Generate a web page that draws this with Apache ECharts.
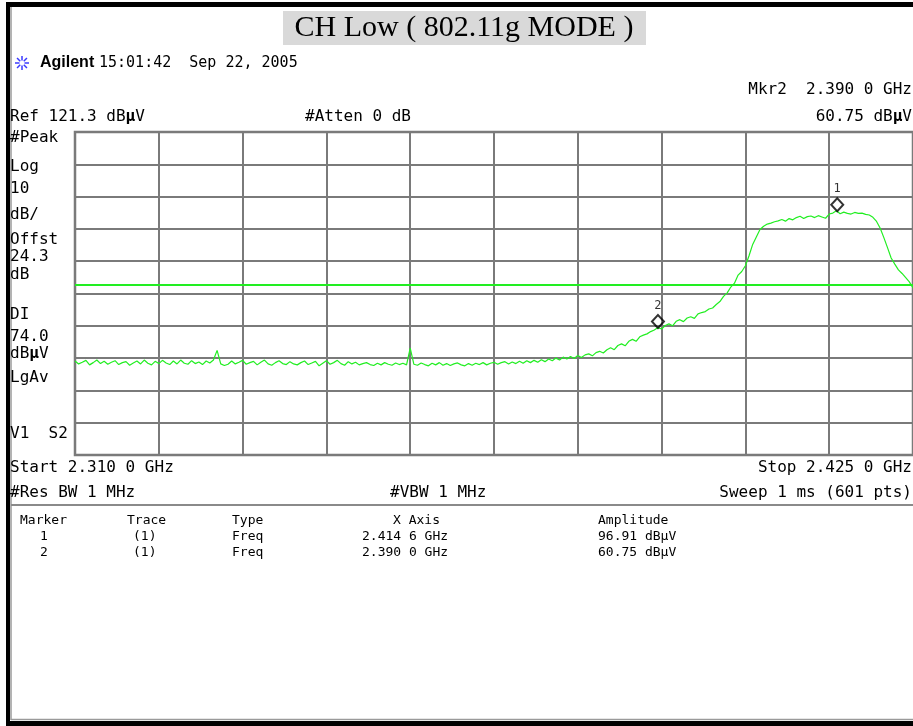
<!DOCTYPE html>
<html>
<head>
<meta charset="utf-8">
<script src="https://cdn.jsdelivr.net/npm/echarts@6/dist/echarts.min.js"></script>
<style>
  html, body { margin: 0; padding: 0; background: #fff; }
  #chart { width: 913px; height: 726px; }
</style>
</head>
<body>
<div id="chart"></div>
<script>
// Sweep settings (GHz) and reference level (dBuV)
const startGHz = 2.310;
const stopGHz = 2.425;
const stepGHz = 0.0005;
const refLevel = 121.3;
const dbPerDiv = 10;
const displayLine = 74.0;

// Measured trace levels in dBuV, one per 0.5 MHz from the start frequency
const traceLevels = [
  50.4, 49.5, 50.0, 50.6, 49.2, 49.9, 50.7, 49.6, 50.3, 49.4, 50.0, 50.5, 49.3, 49.9, 50.2, 49.1, 49.8, 50.4, 49.5, 50.7, 49.7,
  49.2, 50.3, 49.6, 50.6, 49.8, 49.3, 50.4, 49.5, 50.7, 49.7, 49.4, 50.5, 49.6, 50.1, 49.3, 50.4, 49.8, 50.7, 53.7, 49.5,
  49.0, 49.4, 50.4, 49.5, 50.0, 50.6, 49.4, 49.9, 50.3, 49.2, 50.0, 50.7, 49.5, 49.1, 49.9, 50.5, 49.6, 49.3, 50.2, 49.5,
  49.2, 49.9, 50.4, 49.3, 49.8, 50.3, 48.9, 49.7, 50.5, 49.4, 49.9, 50.6, 49.6, 49.1, 50.2, 49.5, 50.0, 49.2, 49.6, 49.9,
  49.3, 49.0, 49.7, 49.2, 49.9, 49.4, 49.1, 49.8, 49.3, 49.7, 49.2, 54.4, 49.4, 49.1, 49.8, 49.3, 48.9, 49.7, 49.2, 49.9,
  49.1, 49.6, 49.0, 49.5, 49.8, 49.2, 48.9, 49.6, 49.1, 49.7, 49.3, 49.9, 49.2, 49.7, 50.0, 49.4, 49.9, 50.2, 49.5, 50.1,
  49.6, 50.3, 49.7, 50.5, 49.9, 50.6, 50.0, 50.8, 50.2, 51.0, 50.5, 51.3, 50.7, 51.6, 51.0, 51.8, 51.2, 52.1, 51.5, 52.3,
  52.6, 52.0, 53.0, 53.4, 52.9, 53.9, 54.5, 53.9, 55.2, 55.7, 55.1, 56.5, 57.1, 56.5, 57.9, 58.4, 58.8, 59.5, 60.0, 60.75,
  60.3, 61.4, 61.9, 61.3, 62.7, 63.2, 62.6, 63.7, 64.1, 63.6, 65.0, 65.4, 65.7, 66.5, 66.8, 67.9, 68.8, 70.4, 71.5, 73.3,
  74.5, 77.0, 78.1, 79.9, 83.0, 86.5, 88.8, 91.1, 92.1, 92.8, 93.1, 93.5, 93.8, 94.2, 93.7, 94.5, 94.1, 94.8, 95.2, 94.5,
  95.1, 95.3, 94.8, 95.4, 95.0, 94.6, 95.9, 96.2, 96.9, 96.0, 96.5, 96.1, 95.9, 96.4, 96.1, 96.2, 95.8, 95.6, 94.9, 93.6,
  91.5, 88.6, 85.5, 82.3, 80.4, 78.6, 77.5, 76.2, 74.9, 73.0
];

// Marker readouts
const markerIds = ['1', '2'];
const markerFreqGHz = [2.4146, 2.3900];
const markerLevels = [96.91, 60.75];

const tracePoints = traceLevels.map((v, i) => [startGHz + i * stepGHz, v]);
const markerPoints = markerIds.map((id, i) => ({ name: id, value: [markerFreqGHz[i], markerLevels[i]] }));

const MONO = '"DejaVu Sans Mono", "Liberation Mono", monospace';
const GRID_GRAY = '#7a7a7a';
const TRACE_GREEN = '#22ee22';

function label(x, y, text, size, align, extra) {
  return {
    type: 'text', x: x, y: y, silent: true,
    style: Object.assign({
      text: text,
      fontFamily: MONO, fontSize: size, fill: '#000',
      align: align || 'left', verticalAlign: 'middle',
      textAlign: align || 'left', textVerticalAlign: 'middle'
    }, extra || {})
  };
}

// "dBuV" with the bold micro sign used by the analyzer
function unitText(x, y, prefix, align) {
  return label(x, y, '{n|' + prefix + 'dB}{b|μ}{n|V}', 16, align, {
    rich: {
      n: { fontFamily: MONO, fontSize: 16, fill: '#000' },
      b: { fontFamily: MONO, fontSize: 16, fontWeight: 'bold', fill: '#000' }
    }
  });
}

function line(x1, y1, x2, y2, color, w) {
  return { type: 'line', silent: true, shape: { x1, y1, x2, y2 }, style: { stroke: color, lineWidth: w } };
}

// Agilent logo burst
const burst = [];
for (let k = 0; k < 8; k++) {
  const a = k * Math.PI / 4;
  burst.push(line(22 + Math.cos(a) * 2.5, 63 + Math.sin(a) * 2.5, 22 + Math.cos(a) * 7, 63 + Math.sin(a) * 7, '#3a3aff', 1.5));
}

const graphics = [
  // outer frame
  { type: 'rect', silent: true, shape: { x: 6, y: 2, width: 907, height: 5 }, style: { fill: '#000' } },
  { type: 'rect', silent: true, shape: { x: 6, y: 2, width: 4, height: 724 }, style: { fill: '#000' } },
  { type: 'rect', silent: true, shape: { x: 6, y: 721, width: 907, height: 5 }, style: { fill: '#000' } },
  line(11, 7, 11, 720, '#9a9a9a', 1.5),
  line(11, 719.5, 913, 719.5, '#9a9a9a', 1.5),
  // title
  { type: 'rect', silent: true, shape: { x: 283, y: 11, width: 363, height: 34 }, style: { fill: '#d9d9d9' } },
  { type: 'text', x: 464, y: 28, silent: true,
    style: { text: 'CH Low ( 802.11g MODE )', fontFamily: '"Liberation Serif", "Times New Roman", serif',
      fontSize: 30, fill: '#000', align: 'center', verticalAlign: 'middle', textAlign: 'center', textVerticalAlign: 'middle' } },
  // instrument header
  label(40, 63, 'Agilent', 16, 'left', { fontFamily: '"Liberation Sans", Arial, sans-serif', fontWeight: 'bold' }),
  label(99, 63, '15:01:42  Sep 22, 2005', 15),
  label(912, 90, 'Mkr2  2.390 0 GHz', 16, 'right'),
  unitText(10, 117, 'Ref 121.3 ', 'left'),
  label(305, 117, '#Atten 0 dB', 16),
  unitText(912, 117, '60.75 ', 'right'),
  // left annotations
  label(10, 138, '#Peak', 16),
  label(10, 167, 'Log', 16),
  label(10, 189, '10', 16),
  label(10, 215, 'dB/', 16),
  label(10, 240, 'Offst', 16),
  label(10, 257, '24.3', 16),
  label(10, 275, 'dB', 16),
  label(10, 315, 'DI', 16),
  label(10, 337, '74.0', 16),
  unitText(10, 354, '', 'left'),
  label(10, 378, 'LgAv', 16),
  label(10, 434, 'V1  S2', 16),
  // sweep settings
  label(10, 468, 'Start 2.310 0 GHz', 16),
  label(912, 468, 'Stop 2.425 0 GHz', 16, 'right'),
  label(10, 493, '#Res BW 1 MHz', 16),
  label(390, 493, '#VBW 1 MHz', 16),
  label(912, 493, 'Sweep 1 ms (601 pts)', 16, 'right'),
  line(11, 505, 913, 505, '#8a8a8a', 2),
  // marker table
  label(20, 521, 'Marker', 13),
  label(127, 521, 'Trace', 13),
  label(232, 521, 'Type', 13),
  label(393, 521, 'X Axis', 13),
  label(598, 521, 'Amplitude', 13),
  label(40, 537, '1', 13),
  label(133, 537, '(1)', 13),
  label(232, 537, 'Freq', 13),
  label(362, 537, '2.414 6 GHz', 13),
  label(598, 537, '96.91 dBμV', 13),
  label(40, 553, '2', 13),
  label(133, 553, '(1)', 13),
  label(232, 553, 'Freq', 13),
  label(362, 553, '2.390 0 GHz', 13),
  label(598, 553, '60.75 dBμV', 13)
].concat(burst);

const chart = echarts.init(document.getElementById('chart'), null, { renderer: 'canvas' });

const gridBox = { left: 75, top: 132, width: 840, height: 323 };

chart.setOption({
  animation: false,
  backgroundColor: '#ffffff',
  grid: [
    Object.assign({ show: true, borderColor: GRID_GRAY, borderWidth: 2.5, backgroundColor: 'transparent' }, gridBox)
  ],
  xAxis: [
    { type: 'value', gridIndex: 0, min: startGHz, max: stopGHz, show: false },
    { type: 'value', gridIndex: 0, min: 0, max: 10, interval: 1,
      axisLine: { show: false }, axisTick: { show: false }, axisLabel: { show: false },
      splitLine: { show: true, lineStyle: { color: GRID_GRAY, width: 2 } } }
  ],
  yAxis: [
    { type: 'value', gridIndex: 0, min: refLevel - dbPerDiv * 10, max: refLevel, show: false },
    { type: 'value', gridIndex: 0, min: 0, max: 10, interval: 1,
      axisLine: { show: false }, axisTick: { show: false }, axisLabel: { show: false },
      splitLine: { show: true, lineStyle: { color: GRID_GRAY, width: 2 } } }
  ],
  series: [
    {
      type: 'line', xAxisIndex: 0, yAxisIndex: 0,
      data: tracePoints, showSymbol: false, symbol: 'none',
      lineStyle: { color: TRACE_GREEN, width: 1.2 },
      clip: true, z: 3,
      markLine: {
        silent: true, symbol: ['none', 'none'], label: { show: false },
        lineStyle: { color: TRACE_GREEN, width: 2, type: 'solid' },
        data: [{ yAxis: displayLine }]
      }
    },
    {
      type: 'scatter', xAxisIndex: 0, yAxisIndex: 0,
      data: markerPoints,
      symbol: 'diamond', symbolSize: [12, 13], symbolOffset: [0, -6],
      itemStyle: { color: 'rgba(255,255,255,0)', borderColor: '#000', borderWidth: 2 },
      label: { show: true, position: 'top', distance: 2, formatter: '{b}',
        fontFamily: MONO, fontSize: 12, color: '#000' },
      z: 5
    }
  ],
  graphic: { elements: graphics }
});
</script>
</body>
</html>
